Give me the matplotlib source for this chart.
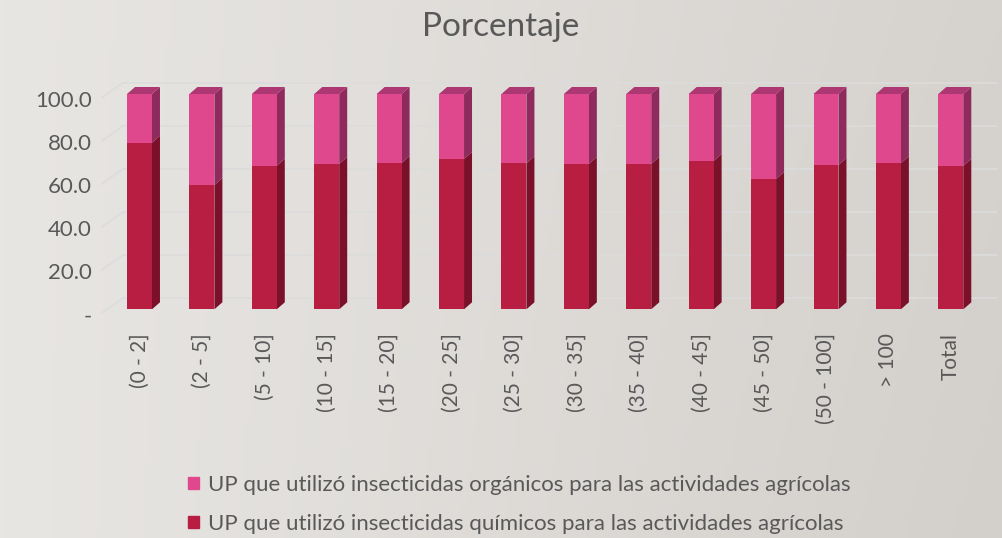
import numpy as np
import matplotlib
matplotlib.use("Agg")
import matplotlib.pyplot as plt
from matplotlib.patches import Polygon, Patch
from matplotlib import transforms

plt.rcParams['font.family'] = ['Lato', 'DejaVu Sans']

# data
categories = ["(0 - 2]", "(2 - 5]", "(5 - 10]", "(10 - 15]", "(15 - 20]", "(20 - 25]",
              "(25 - 30]", "(30 - 35]", "(35 - 40]", "(40 - 45]", "(45 - 50]",
              "(50 - 100]", "> 100", "Total"]
quimicos = [77.4, 57.7, 66.7, 67.5, 67.9, 69.8, 67.8, 67.5, 67.5, 68.9, 60.5, 67.0, 67.8, 66.6]
organicos = [100 - v for v in quimicos]
yticks = [0, 20, 40, 60, 80, 100]
ytick_labels = ["-", "20.0", "40.0", "60.0", "80.0", "100.0"]
label_org = "UP que utilizó insecticidas orgánicos para las actividades agrícolas"
label_qui = "UP que utilizó insecticidas químicos para las actividades agrícolas"

# colours
pink_front, pink_side, pink_top = "#E0488D", "#8F2A5C", "#AD3772"
red_front, red_side, red_top = "#B81E42", "#7A102A", "#951833"
grid_col = "#DCDCDC"
text_col = "#595959"

fig = plt.figure(figsize=(10.02, 5.38), dpi=100)

# background gradient
bg = fig.add_axes([0, 0, 1, 1], zorder=-10)
gx = np.linspace(0, 1, 200)
gy = np.linspace(0, 1, 100)
GX, GY = np.meshgrid(gx, gy)
c_light = np.array([0xE8, 0xE6, 0xE3]) / 255
c_dark = np.array([0xD3, 0xCF, 0xCB]) / 255
t = np.clip(0.85 * GX + 0.15 * (1 - GY) * GX, 0, 1)[..., None]
bg.imshow(c_light * (1 - t) + c_dark * t, aspect='auto', extent=[0, 1, 0, 1], origin='lower')
bg.axis('off')

W, H = 1002, 538
ax = fig.add_axes([101 / W, 1 - 315 / H, 896 / W, 235 / H])
ax.patch.set_alpha(0)
xmin, xmax = -0.617, 13.74
ax.set_xlim(xmin, xmax)
ax.set_ylim(-2.65, 106.5)

x = np.arange(len(categories))
bw = 0.40
ddx, ddy = 0.128, 3.25        # bar depth
wall_dx, wall_dy = 0.353, 5.2  # back wall offset
front_dy = -2.0

# gridlines on back wall + left diagonals
for v in yticks:
    ax.plot([xmin + wall_dx, xmax], [v + wall_dy, v + wall_dy], color=grid_col, lw=1.2, zorder=0)
    ax.plot([xmin, xmin + wall_dx], [v + front_dy, v + wall_dy], color=grid_col, lw=1.2, zorder=0)

b1 = ax.bar(x, quimicos, width=bw, color=red_front, zorder=3)
b2 = ax.bar(x, organicos, width=bw, bottom=quimicos, color=pink_front, zorder=3)

for xi, q, o in zip(x, quimicos, organicos):
    r = xi + bw / 2
    l = xi - bw / 2
    # side faces
    ax.add_patch(Polygon([(r, 0), (r + ddx, ddy), (r + ddx, q + ddy), (r, q)],
                         closed=True, color=red_side, zorder=2, lw=0))
    ax.add_patch(Polygon([(r, q), (r + ddx, q + ddy), (r + ddx, q + o + ddy), (r, q + o)],
                         closed=True, color=pink_side, zorder=2, lw=0))
    # top face
    top = q + o
    ax.add_patch(Polygon([(l, top), (l + ddx, top + ddy), (r + ddx, top + ddy), (r, top)],
                         closed=True, color=pink_top, zorder=2, lw=0))

for s in ax.spines.values():
    s.set_visible(False)
ax.set_yticks([])
ax.set_xticks(x)
ax.set_xticklabels(categories, rotation=90, va='top', ha='center', fontsize=15, color=text_col)
ax.tick_params(axis='x', length=0, pad=13)

off = transforms.offset_copy(ax.transData, fig=fig, x=-9, y=-7, units='dots')
for v, lab in zip(yticks, ytick_labels):
    ax.text(xmin, v, lab, transform=off, ha='right', va='center', fontsize=16, color=text_col)

fig.text(0.5, 1 - 27 / H, "Porcentaje", ha='center', va='center', fontsize=24, color=text_col)

handles = [Patch(color=pink_front), Patch(color=red_front)]
fig.legend(handles, [label_org, label_qui], loc='upper left', bbox_to_anchor=(168 / W, 1 - 455 / H),
           frameon=False, fontsize=16, labelcolor=text_col, handlelength=0.5, handleheight=0.5,
           handletextpad=0.4, labelspacing=0.85)

fig.savefig("out.png", dpi=100)
